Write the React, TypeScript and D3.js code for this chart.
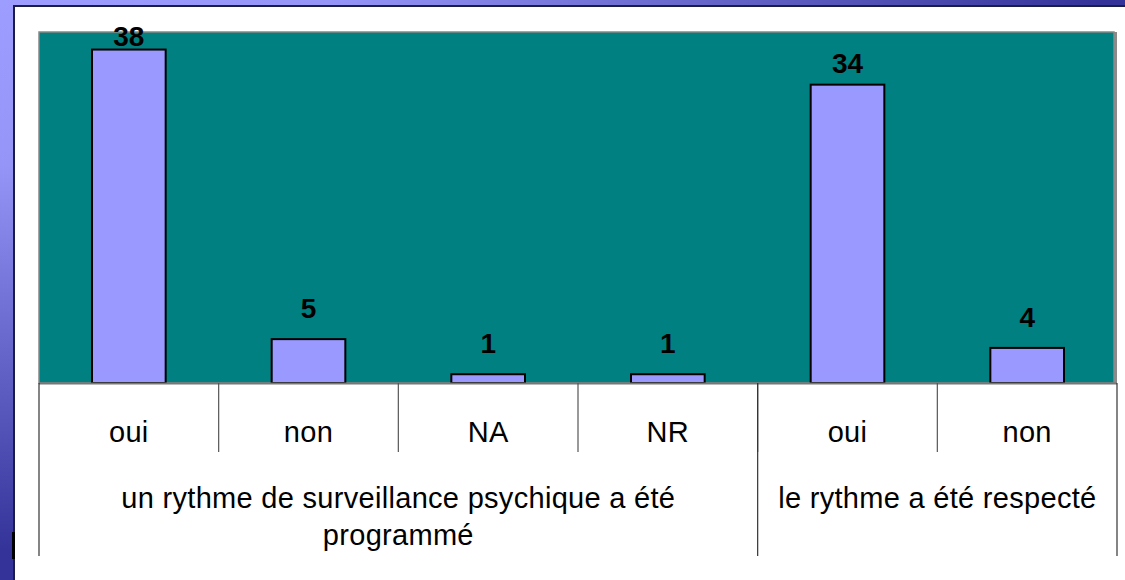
import React from 'react';
import * as d3 from 'd3';

// values
const categories = ['oui', 'non', 'NA', 'NR', 'oui', 'non'];
const counts = [38, 5, 1, 1, 34, 4];
const groups = [
  { lines: ['un rythme de surveillance psychique a été', 'programmé'], from: 0, to: 3 },
  { lines: ['le rythme a été respecté'], from: 4, to: 5 },
];
const yMax = 40;

const W = 1125;
const H = 580;
const plot = { left: 39, right: 1117, top: 32, bottom: 383 };
const font = '"Liberation Sans", Arial, sans-serif';

const App = () => {
  const x = d3.scaleBand<number>()
    .domain(d3.range(categories.length))
    .range([plot.left, plot.right])
    .paddingInner(0.59)
    .paddingOuter(0.295);

  const y = d3.scaleLinear()
    .domain([0, yMax])
    .range([plot.bottom, plot.top]);

  const step = x.step();
  const edge = (i: number) => plot.left + i * step;

  return (
    <svg width={W} height={H} style={{ position: 'absolute', left: 0, top: 0 }} fontFamily={font}>
      <defs>
        <radialGradient id="bg" cx="0" cy="0" r="1100" gradientUnits="userSpaceOnUse"
          gradientTransform="scale(1,0.5)">
          <stop offset="0" stopColor="#9d9dff" />
          <stop offset="0.3" stopColor="#9595f8" />
          <stop offset="1" stopColor="#333399" />
        </radialGradient>
      </defs>

      {/* slide background and white panel */}
      <rect x={0} y={0} width={W} height={H} fill="url(#bg)" />
      <rect x={14} y={6} width={W} height={H} fill="#fff" stroke="#1c1c48" strokeWidth={2} />
      <rect x={12} y={532} width={3} height={27} fill="#000" />

      {/* plot area */}
      <rect x={plot.left} y={plot.top} width={plot.right - plot.left - 3} height={plot.bottom - plot.top}
        fill="#008080" stroke="#888" strokeWidth={1.5} />
      <line x1={plot.right - 1.5} x2={plot.right - 1.5} y1={plot.top} y2={plot.bottom + 1} stroke="#8a8a8a" strokeWidth={3} />

      {/* bars */}
      {counts.map((v, i) => (
        <rect key={'b' + i} x={x(i)} y={y(v)} width={x.bandwidth()} height={y(0) - y(v)}
          fill="#9999ff" stroke="#000" strokeWidth={2} />
      ))}
      <line x1={plot.left} x2={plot.right} y1={plot.bottom + 0.5} y2={plot.bottom + 0.5} stroke="#777" strokeWidth={2} />

      {/* value labels */}
      {counts.map((v, i) => {
        const top = y(v);
        const gap = Math.min(21, (top - plot.top) * 0.23);
        return (
          <text key={'v' + i} x={x(i)! + x.bandwidth() / 2} y={top - gap} textAnchor="middle"
            fontSize={28} fontWeight="bold" fill="#000">{v}</text>
        );
      })}

      {/* category axis */}
      {categories.map((c, i) => (
        <text key={'c' + i} x={x(i)! + x.bandwidth() / 2} y={442} textAnchor="middle"
          fontSize={29} letterSpacing={0.3} fill="#000">{c}</text>
      ))}
      {d3.range(1, categories.length).map(i => (
        <line key={'t' + i} x1={edge(i)} x2={edge(i)} y1={plot.bottom} y2={452} stroke="#555" strokeWidth={1.2} />
      ))}
      {[0, ...groups.map(g => g.to + 1)].map(i => (
        <line key={'g' + i} x1={edge(i)} x2={edge(i)} y1={plot.bottom} y2={556} stroke="#333" strokeWidth={1.2} />
      ))}
      {groups.map((g, gi) => {
        const cx = (edge(g.from) + edge(g.to + 1)) / 2;
        return g.lines.map((l, li) => (
          <text key={'gl' + gi + li} x={cx} y={508 + li * 37} textAnchor="middle"
            fontSize={29} letterSpacing={0.3} fill="#000">{l}</text>
        ));
      })}
    </svg>
  );
};

export default App;
